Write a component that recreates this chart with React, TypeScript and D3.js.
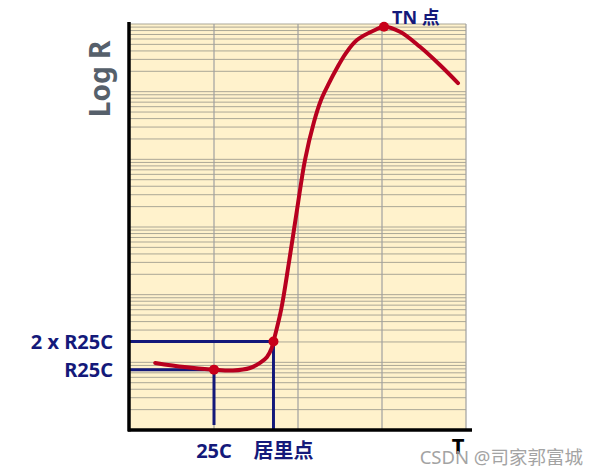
import React, { useEffect, useRef } from 'react';
import * as d3 from 'd3';

// curve: T position (grid columns 0..4) and R (log scale, 1..1e6)
const curveT = [0.3, 0.65, 1.0, 1.226, 1.429, 1.548, 1.631, 1.687, 1.708, 1.798, 1.893, 1.988, 2.083, 2.19, 2.274, 2.357, 2.464, 2.571, 2.702, 2.917, 3.024, 3.214, 3.452, 3.69, 3.905];
const curveR = [9.8, 8.5, 7.8, 7.6, 8.25, 9.8, 12, 16.3, 20.3, 59, 304, 1780, 9770, 35600, 75300, 125000, 224000, 372000, 580000, 815000, 912000, 769000, 461000, 248000, 134000];

const markT = [1.0, 1.708, 3.024];
const markR = [7.8, 20.3, 912000];

const yLabels = ['R25C', '2 x R25C'];
const yLabelR = [7.8, 20.3];
const xLabels = ['25C', '居里点'];

const ScatterChart = () => {
  const ref = useRef<SVGSVGElement | null>(null);

  useEffect(() => {
    if (!ref.current) return;
    const svg = d3.select(ref.current);
    svg.selectAll('*').remove();

    const left = 130, right = 466, top = 24, bottom = 430;
    const x = d3.scaleLinear().domain([0, 4]).range([left, right]);
    const y = d3.scaleLog().domain([1, 1e6]).range([bottom, top]);

    const navy = '#14197a';
    const red = '#b8001f';

    svg.append('rect')
      .attr('x', left).attr('y', top)
      .attr('width', right - left).attr('height', bottom - top)
      .attr('fill', '#fff2cc');

    // log grid
    const hLines: number[] = [];
    for (let d = 0; d < 6; d++) {
      for (let k = 1; k <= 9; k++) hLines.push(k * Math.pow(10, d));
    }
    hLines.push(1e6);
    svg.append('g').selectAll('line')
      .data(hLines)
      .enter().append('line')
      .attr('x1', left).attr('x2', right)
      .attr('y1', d => y(d)).attr('y2', d => y(d))
      .attr('stroke', '#aba796').attr('stroke-width', 1);

    svg.append('g').selectAll('line')
      .data([1, 2, 3, 4])
      .enter().append('line')
      .attr('x1', d => x(d)).attr('x2', d => x(d))
      .attr('y1', top).attr('y2', bottom)
      .attr('stroke', '#a0a0a0').attr('stroke-width', 1.2);

    // reference lines
    yLabelR.forEach((r, i) => {
      const t = markT[i];
      svg.append('line')
        .attr('x1', left).attr('x2', x(t))
        .attr('y1', y(r)).attr('y2', y(r))
        .attr('stroke', navy).attr('stroke-width', 3);
      svg.append('line')
        .attr('x1', x(t)).attr('x2', x(t))
        .attr('y1', y(r)).attr('y2', i === 0 ? bottom - 5 : bottom)
        .attr('stroke', navy).attr('stroke-width', 3);
    });

    // axes
    svg.append('line')
      .attr('x1', left - 1).attr('x2', left - 1)
      .attr('y1', top - 2).attr('y2', bottom + 1.5)
      .attr('stroke', '#000').attr('stroke-width', 3.5);
    svg.append('line')
      .attr('x1', left - 2).attr('x2', 472)
      .attr('y1', bottom).attr('y2', bottom)
      .attr('stroke', '#000').attr('stroke-width', 3.5);

    const line = d3.line<number>()
      .x(d => x(curveT[d]))
      .y(d => y(curveR[d]))
      .curve(d3.curveCatmullRom.alpha(0.5));
    svg.append('path')
      .attr('d', line(d3.range(curveT.length)))
      .attr('fill', 'none')
      .attr('stroke', red)
      .attr('stroke-width', 4)
      .attr('stroke-linecap', 'round');

    svg.append('g').selectAll('circle')
      .data(markT)
      .enter().append('circle')
      .attr('cx', d => x(d))
      .attr('cy', (d, i) => y(markR[i]))
      .attr('r', 5)
      .attr('fill', '#c8001a');

    const font = '"Noto Sans", "Noto Sans CJK SC", sans-serif';

    svg.append('g').selectAll('text')
      .data(yLabels)
      .enter().append('text')
      .attr('x', 113)
      .attr('y', (d, i) => y(yLabelR[i]) + 7)
      .attr('text-anchor', 'end')
      .style('font-family', font)
      .style('font-weight', 'bold')
      .style('font-size', '20px')
      .style('fill', navy)
      .text(d => d);

    svg.append('g').selectAll('text')
      .data(xLabels)
      .enter().append('text')
      .attr('x', (d, i) => x(markT[i]) + (i === 0 ? 0 : 10))
      .attr('y', 458)
      .attr('text-anchor', 'middle')
      .style('font-family', font)
      .style('font-weight', 'bold')
      .style('font-size', '20px')
      .style('fill', navy)
      .text(d => d);

    svg.append('text')
      .attr('x', 392).attr('y', 24)
      .style('font-family', font)
      .style('font-weight', 'bold')
      .style('font-size', '18px')
      .style('fill', navy)
      .text('TN 点');

    svg.append('text')
      .attr('x', 458).attr('y', 454)
      .attr('text-anchor', 'middle')
      .style('font-family', font)
      .style('font-weight', 'bold')
      .style('font-size', '22px')
      .style('fill', '#000')
      .text('T');

    svg.append('text')
      .attr('transform', 'translate(110,79) rotate(-90)')
      .attr('text-anchor', 'middle')
      .style('font-family', font)
      .style('font-weight', 'bold')
      .style('font-size', '28px')
      .style('fill', '#56606b')
      .text('Log R');

    svg.append('text')
      .attr('x', 583).attr('y', 464)
      .attr('text-anchor', 'end')
      .style('font-family', font)
      .style('font-size', '18.5px')
      .style('fill', '#9a9a9a')
      .style('opacity', 0.9)
      .text('CSDN @司家郭富城');
  }, []);

  return (
    <svg ref={ref} width={600} height={475}
      style={{ position: 'absolute', left: 0, top: 0, background: '#fff' }} />
  );
};

export default function App() {
  return <ScatterChart />;
}
